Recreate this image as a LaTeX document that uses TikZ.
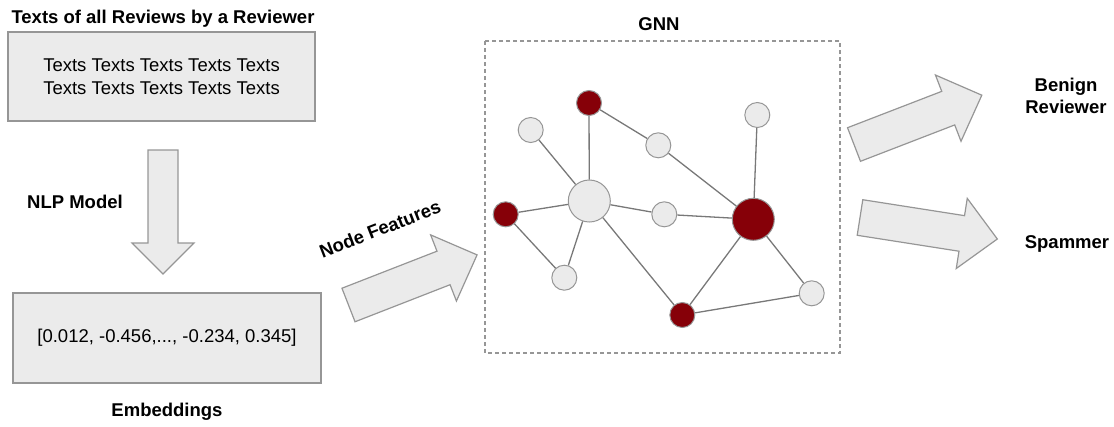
\documentclass[tikz,border=0pt]{standalone}
\usepackage{fontspec}
\setmainfont{Liberation Sans}
\definecolor{boxfill}{RGB}{235,235,235}
\definecolor{boxline}{RGB}{150,150,150}
\definecolor{edgecol}{RGB}{120,120,120}
\definecolor{spam}{RGB}{134,0,8}
\newcommand\bigarrow[7]{%
  \begin{scope}[shift={(#1,#2)}, rotate=#3]
    \draw[arrowshape] (0,#5) -- ({#4-#7},#5) -- ({#4-#7},#6) -- (#4,0) -- ({#4-#7},-#6) -- ({#4-#7},-#5) -- (0,-#5) -- cycle;
  \end{scope}}
\begin{document}
\begin{tikzpicture}[x=1pt,y=-1pt,
  every node/.style={font=\fontsize{18.5}{23}\selectfont},
  box/.style={draw=boxline, fill=boxfill, line width=1.2pt, align=center, inner sep=0pt},
  lbl/.style={font=\fontsize{18.5}{22}\selectfont\bfseries, align=center},
  arrowshape/.style={draw=boxline, fill=boxfill, line width=1.2pt, line join=miter},
  gn/.style={circle, draw=boxline, line width=1pt, fill=boxfill, minimum size=25pt, inner sep=0pt},
  rn/.style={gn, fill=spam},
  big/.style={minimum size=42pt},
  edge/.style={draw=edgecol, line width=1.3pt}]
\useasboundingbox (0,0) rectangle (1114,426);

% left column
\node[lbl] (title) at (163,19) {Texts of all Reviews by a Reviewer};
\node[box, minimum width=307pt, minimum height=89pt] (texts) at (161.5,76.5)
  {Texts Texts Texts Texts Texts\\Texts Texts Texts Texts Texts};
\bigarrow{163}{150}{-90}{124}{15}{31}{31}
\node[lbl] (nlp) at (75,202) {NLP Model};
\node[box, minimum width=308pt, minimum height=90pt] (emb) at (167,338)
  {[0.012, -0.456,..., -0.234, 0.345]};
\node[lbl] (embl) at (167,412) {Embeddings};

% node features arrow
\bigarrow{348.5}{305}{21.3}{138}{18}{35.5}{36}
\node[lbl, rotate=21.3] (nf) at (380,229) {Node Features};

% GNN box
\node[lbl] (gnnl) at (659,24) {GNN};
\draw[boxline, line width=1.2pt, dashed, dash pattern=on 4pt off 3pt] (485,41) rectangle (840,353);

% graph
\node[rn] (A) at (589,103) {};
\node[gn] (B) at (530.7,130) {};
\node[gn] (C) at (658.3,145.3) {};
\node[gn] (D) at (757.3,115) {};
\node[gn, big] (E) at (589.3,201) {};
\node[rn] (F) at (505.7,214.3) {};
\node[gn] (G) at (664.3,214.3) {};
\node[rn, big] (H) at (753.3,219.3) {};
\node[gn] (I) at (564.3,277.7) {};
\node[rn] (J) at (682.3,315) {};
\node[gn] (K) at (811.7,293.3) {};
\begin{scope}[on background layer/.try]
\end{scope}
\foreach \a/\b in {A/E, A/C, B/E, C/H, D/H, E/F, E/G, G/H, E/I, F/I, E/J, J/H, H/K, J/K}
  \draw[edge] (\a) -- (\b);

% outputs
\bigarrow{854}{144.5}{21.1}{137}{18}{35.5}{36}
\bigarrow{860}{217.5}{-8.9}{139}{18}{35.5}{36}
\node[lbl] (benign) at (1066,96) {Benign\\Reviewer};
\node[lbl] (spammer) at (1067,244) {Spammer};
\end{tikzpicture}
\end{document}
